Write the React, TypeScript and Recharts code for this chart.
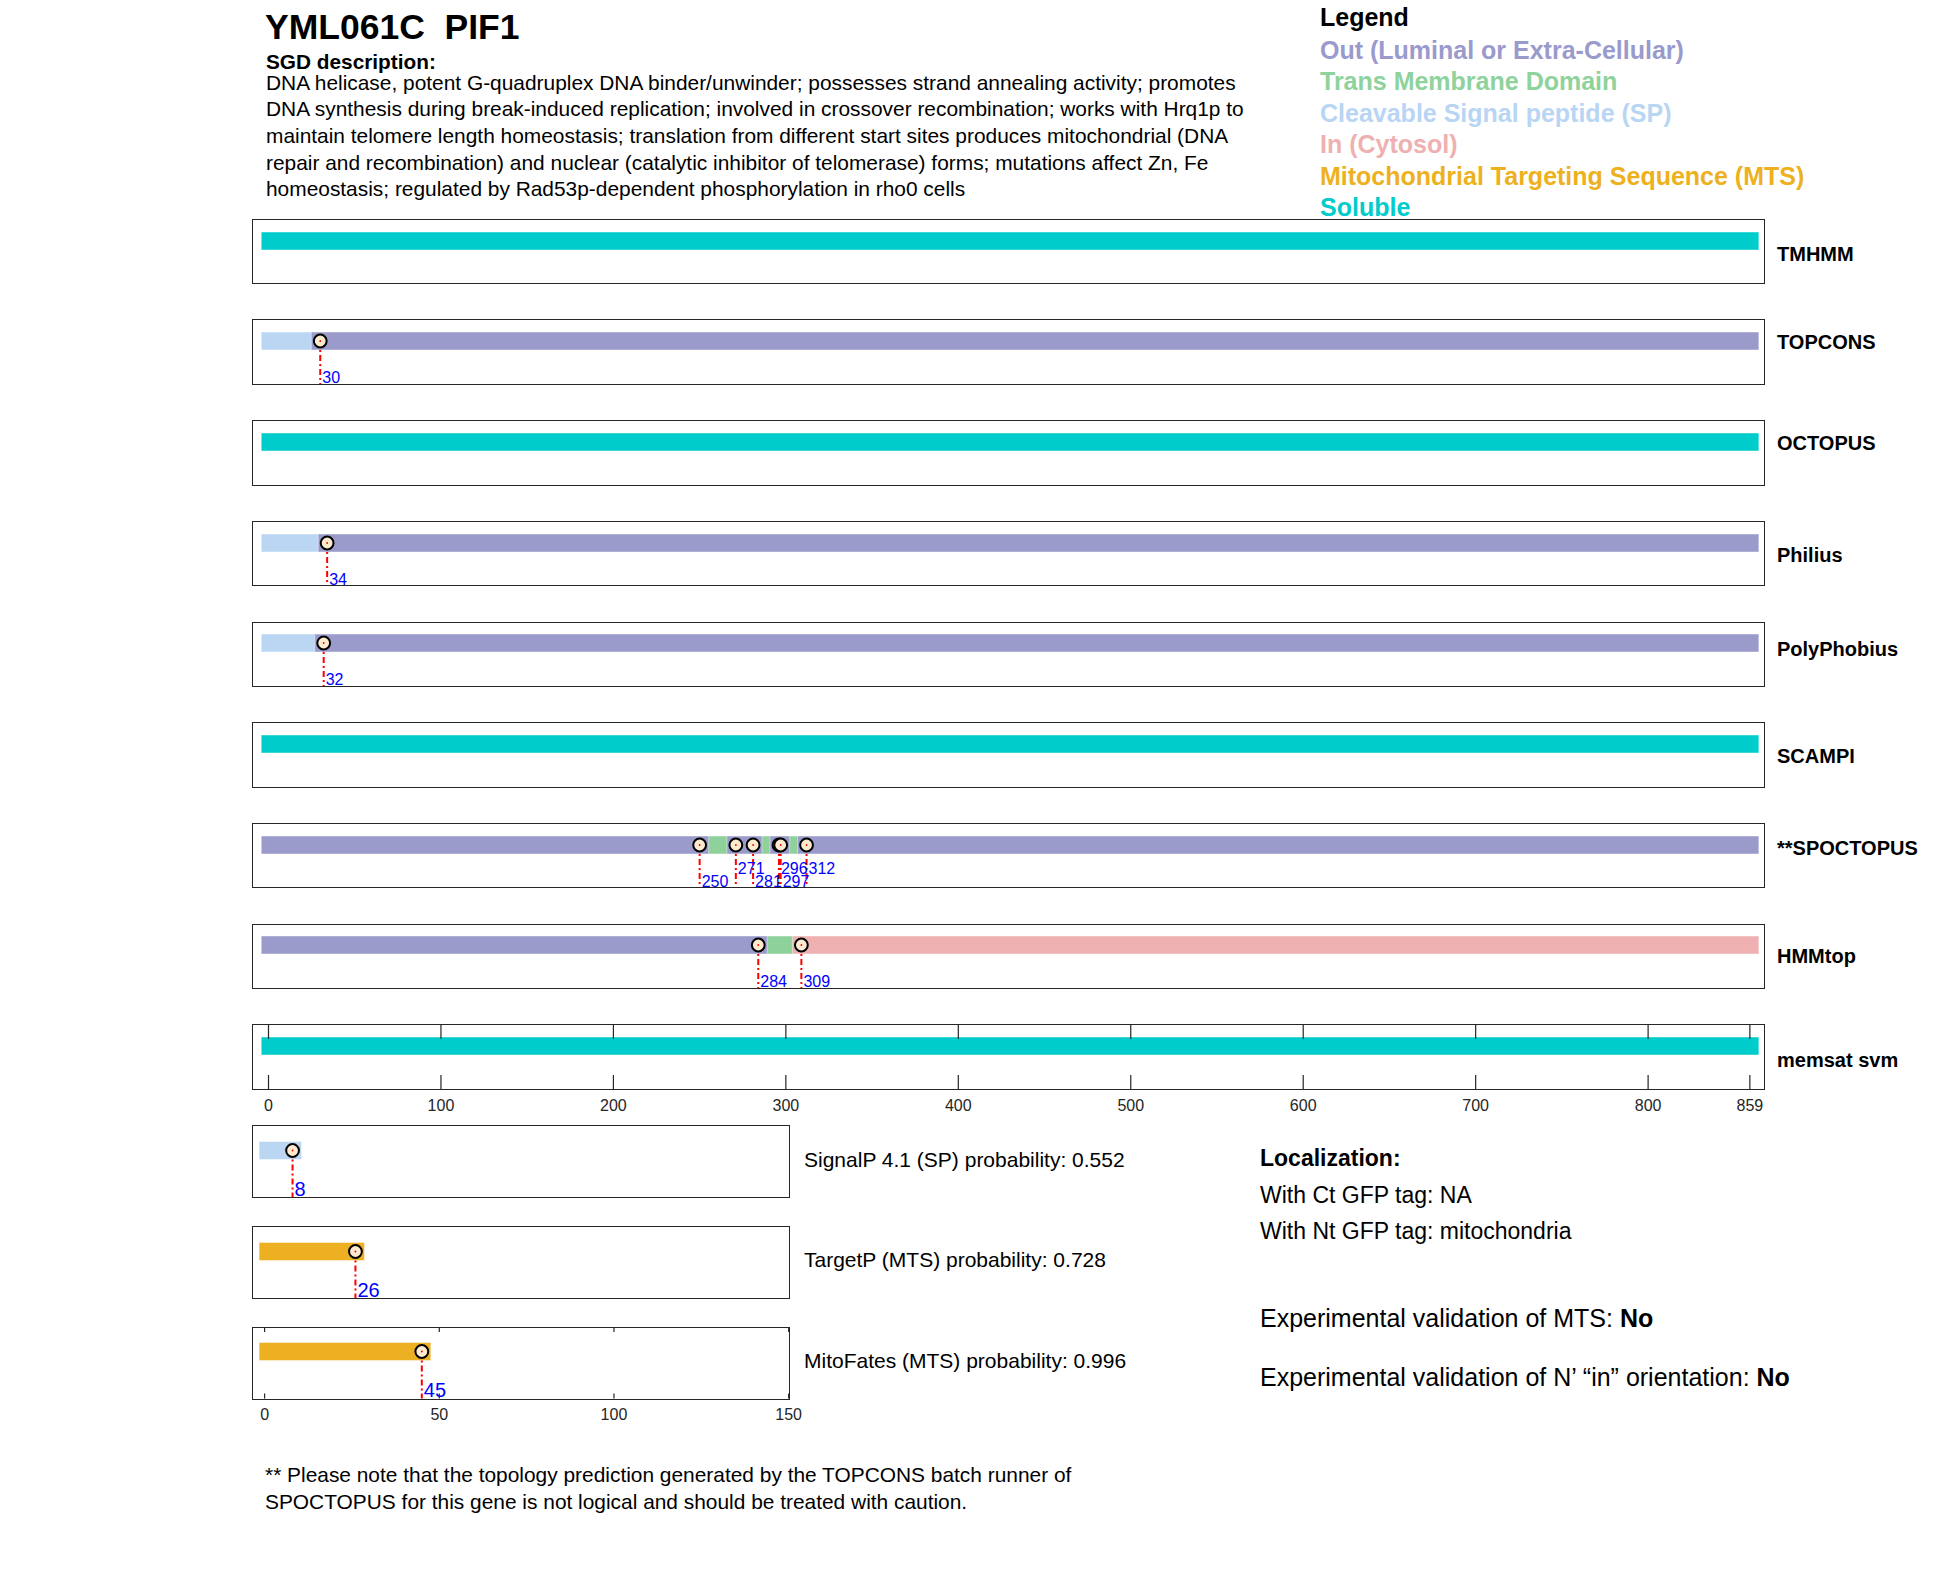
import React from 'react';
import { ComposedChart, XAxis, YAxis, ReferenceArea, ReferenceLine, Scatter } from 'recharts';

// Protein topology predictions for YML061C / PIF1 (859 residues)
const SEQ_LENGTH = 859;

const TRACK_NAMES = ['TMHMM', 'TOPCONS', 'OCTOPUS', 'Philius', 'PolyPhobius', 'SCAMPI', '**SPOCTOPUS', 'HMMtop', 'memsat svm'];

type Seg = [string, number, number];

const tmhmmSegments: Seg[] = [['soluble', 1, SEQ_LENGTH]];
const topconsSegments: Seg[] = [['sp', 1, 30], ['out', 30, SEQ_LENGTH]];
const octopusSegments: Seg[] = [['soluble', 1, SEQ_LENGTH]];
const philiusSegments: Seg[] = [['sp', 1, 34], ['out', 34, SEQ_LENGTH]];
const polyphobiusSegments: Seg[] = [['sp', 1, 32], ['out', 32, SEQ_LENGTH]];
const scampiSegments: Seg[] = [['soluble', 1, SEQ_LENGTH]];
const spoctopusSegments: Seg[] = [
  ['out', 1, 250], ['tm', 250, 271], ['out', 271, 281], ['tm', 281, 296],
  ['out', 296, 297], ['tm', 297, 312], ['out', 312, SEQ_LENGTH],
];
const hmmtopSegments: Seg[] = [['out', 1, 284], ['tm', 284, 309], ['in', 309, SEQ_LENGTH]];
const memsatSegments: Seg[] = [['soluble', 1, SEQ_LENGTH]];

const TRACK_SEGMENTS = [
  tmhmmSegments, topconsSegments, octopusSegments, philiusSegments, polyphobiusSegments,
  scampiSegments, spoctopusSegments, hmmtopSegments, memsatSegments,
];

const TRACK_SITES = [[], [30], [], [34], [32], [], [250, 271, 281, 296, 297, 312], [284, 309], []];

const AXIS_TICKS = [0, 100, 200, 300, 400, 500, 600, 700, 800, 859];
const SMALL_TICKS = [0, 50, 100, 150];

// N-terminal predictors
const PREDICTOR_NAMES = ['SignalP 4.1 (SP)', 'TargetP (MTS)', 'MitoFates (MTS)'];
const PREDICTOR_TYPES = ['sp', 'mts', 'mts'];
const PREDICTOR_SITES = [8, 26, 45];
const PREDICTOR_PROBS = [0.552, 0.728, 0.996];

const LEGEND_KEYS = ['out', 'tm', 'sp', 'in', 'mts', 'soluble'];
const LEGEND_LABELS = [
  'Out (Luminal or Extra-Cellular)', 'Trans Membrane Domain', 'Cleavable Signal peptide (SP)',
  'In (Cytosol)', 'Mitochondrial Targeting Sequence (MTS)', 'Soluble',
];

const DESCRIPTION = [
  'DNA helicase, potent G-quadruplex DNA binder/unwinder; possesses strand annealing activity; promotes',
  'DNA synthesis during break-induced replication; involved in crossover recombination; works with Hrq1p to',
  'maintain telomere length homeostasis; translation from different start sites produces mitochondrial (DNA',
  'repair and recombination) and nuclear (catalytic inhibitor of telomerase) forms; mutations affect Zn, Fe',
  'homeostasis; regulated by Rad53p-dependent phosphorylation in rho0 cells',
];

const FOOTNOTE = [
  '** Please note that the topology prediction generated by the TOPCONS batch runner of',
  'SPOCTOPUS for this gene is not logical and should be treated with caution.',
];

const COLORS: Record<string, string> = {
  out: '#9B9BCB',
  tm: '#8FD19B',
  sp: '#BAD6F2',
  in: '#EEB0B0',
  mts: '#ECB022',
  soluble: '#00CCCC',
};
const LEGEND_COLORS: Record<string, string> = {
  out: '#9A9ACC',
  tm: '#8ED29C',
  sp: '#B8D5F4',
  in: '#EEB0B1',
  mts: '#EDB120',
  soluble: '#00CCCC',
};

const FONT = '"Liberation Sans", Arial, Helvetica, sans-serif';
const CAP = 9; // bars are drawn like thick lines, half-width sticks out past the ends

// layout
const BIG_LEFT = 253;
const BIG_WIDTH = 1511;
const BIG_TOP = 219.5;
const BIG_H = 64;
const BIG_DOMAIN: [number, number] = [-8.99, 867.2];
const STEP = 100.7;
const SMALL_LEFT = 253;
const SMALL_WIDTH = 536;
const SMALL_TOP = 1126;
const SMALL_H = 71.5;
const SMALL_DOMAIN: [number, number] = [-3.32, 150.1];
const LABEL_DY = [34, 22, 22, 33, 26.5, 32.5, 24.5, 32, 34.5];
const PAD = 24; // spare room round each chart so edge labels are not clipped

const assignRows = (sites: number[]) => {
  let prev: number | null = null;
  let prevRow = 0;
  return sites.map((s) => {
    const row = prev !== null && s - prev < 24 ? 1 - prevRow : 0;
    prev = s;
    prevRow = row;
    return row;
  });
};

const SegmentRect = (props: any) => {
  const { x, y, width, height, color } = props;
  if (x == null || y == null) return null;
  return (
    <rect
      x={x - CAP}
      y={y}
      width={width + CAP * 2}
      height={height}
      fill={color}
      stroke="rgba(255,255,255,0.45)"
      strokeWidth={1}
    />
  );
};

const SiteDot = (props: any) => {
  const { cx, cy, payload, plotBottom, fontSize } = props;
  const baseline = payload.row === 1 ? plotBottom - 14.3 : plotBottom - 1.5;
  return (
    <g>
      <circle cx={cx} cy={cy} r={6.4} fill="#FDEBCF" stroke="#000" strokeWidth={2} />
      <circle cx={cx} cy={cy} r={0.9} fill="#FF0000" />
      <text x={cx + 2} y={baseline} fontSize={fontSize} fill="#0000FF" fontFamily={FONT}>
        {payload.x}
      </text>
    </g>
  );
};

const AxisTick = (props: any) => {
  const { x, payload, plotTop, plotH, len } = props;
  const bottom = plotTop + plotH;
  return (
    <g>
      <line x1={x} x2={x} y1={plotTop} y2={plotTop + len} stroke="#262626" strokeWidth={1.2} />
      <line x1={x} x2={x} y1={bottom - len} y2={bottom} stroke="#262626" strokeWidth={1.2} />
      <text x={x} y={bottom + 21.5} textAnchor="middle" fontSize={16} fill="#262626" fontFamily={FONT}>
        {payload.value}
      </text>
    </g>
  );
};

interface TrackProps {
  left: number;
  top: number;
  width: number;
  height: number;
  domain: [number, number];
  segments: Seg[];
  sites: number[];
  ticks?: number[];
  tickLen?: number;
  labelSize: number;
  barTop: number;
  barH: number;
}

const Track: React.FC<TrackProps> = ({ left, top, width, height, domain, segments, sites, ticks, tickLen, labelSize, barTop, barH }) => {
  const hasAxis = !!ticks;
  const axisH = hasAxis ? 32 : 0;
  const rows = assignRows(sites);
  const dots = sites.map((s, i) => ({ x: s, y: barTop + barH / 2, row: rows[i] }));
  // transmembrane pieces sit underneath the neighbouring segments
  const ordered = [...segments.filter((s) => s[0] === 'tm'), ...segments.filter((s) => s[0] !== 'tm')];

  return (
    <div style={{ position: 'absolute', left: left - PAD, top: top - PAD, width: width + PAD * 2, height: height + axisH + PAD * 2 }}>
      <ComposedChart
        width={width + PAD * 2}
        height={height + axisH + PAD * 2}
        margin={{ top: PAD, right: PAD, bottom: PAD, left: PAD }}
        data={dots}
      >
        <XAxis
          type="number"
          dataKey="x"
          domain={domain}
          allowDataOverflow
          hide={!hasAxis}
          ticks={ticks}
          interval={0}
          height={axisH}
          axisLine={false}
          tickLine={false}
          tick={hasAxis ? (p: any) => <AxisTick {...p} plotTop={PAD} plotH={height} len={tickLen} /> : false}
        />
        <YAxis type="number" dataKey="y" domain={[0, height]} reversed hide allowDataOverflow />
        {ordered.map(([type, start, end], i) => (
          <ReferenceArea
            key={'a' + i}
            x1={start}
            x2={end}
            y1={barTop}
            y2={barTop + barH}
            ifOverflow="visible"
            shape={(p: any) => <SegmentRect {...p} color={COLORS[type]} />}
          />
        ))}
        {sites.map((s, i) => (
          <ReferenceLine
            key={'l' + i}
            segment={[{ x: s, y: barTop + barH / 2 }, { x: s, y: height }]}
            stroke="#FF0000"
            strokeWidth={2}
            strokeDasharray="6 3 2 3"
            ifOverflow="visible"
          />
        ))}
        <Scatter
          data={dots}
          isAnimationActive={false}
          shape={(p: any) => <SiteDot {...p} plotBottom={PAD + height} fontSize={labelSize} />}
        />
      </ComposedChart>
      <div
        style={{
          position: 'absolute',
          left: PAD - 0.7,
          top: PAD - 0.7,
          width: width + 1.4,
          height: height + 1.4,
          border: '1.4px solid #262626',
          boxSizing: 'border-box',
          pointerEvents: 'none',
        }}
      />
    </div>
  );
};

export default function App() {
  return (
    <div style={{ position: 'absolute', left: 0, top: 0, width: 1950, height: 1573, background: '#fff', fontFamily: FONT }}>
      <svg width={1950} height={1573} style={{ position: 'absolute', left: 0, top: 0 }} fontFamily={FONT}>
        <text x={265} y={38.5} fontSize={35.5} fontWeight="bold" fill="#000" style={{ whiteSpace: 'pre' }}>
          {'YML061C  PIF1'}
        </text>
        <text x={266} y={69} fontSize={20.8} fontWeight="bold" fill="#000">SGD description:</text>
        {DESCRIPTION.map((line, i) => (
          <text key={i} x={266} y={89.5 + i * 26.7} fontSize={20.9} fill="#000">{line}</text>
        ))}

        <text x={1320} y={26} fontSize={25} fontWeight="bold" fill="#000">Legend</text>
        {LEGEND_LABELS.map((label, i) => (
          <text key={label} x={1320} y={58.5 + i * 31.5} fontSize={25} fontWeight="bold" fill={LEGEND_COLORS[LEGEND_KEYS[i]]}>
            {label}
          </text>
        ))}

        {TRACK_NAMES.map((name, i) => (
          <text key={name} x={1777} y={BIG_TOP + i * STEP + LABEL_DY[i] + 7} fontSize={20} fontWeight="bold" fill="#000">
            {name}
          </text>
        ))}

        {PREDICTOR_NAMES.map((name, i) => (
          <text key={name} x={804} y={SMALL_TOP + i * STEP + 40.5} fontSize={21} fill="#000">
            {`${name} probability: ${PREDICTOR_PROBS[i]}`}
          </text>
        ))}

        <text x={1260} y={1166} fontSize={23} fontWeight="bold" fill="#000">Localization:</text>
        <text x={1260} y={1202.5} fontSize={23} fill="#000">With Ct GFP tag: NA</text>
        <text x={1260} y={1239} fontSize={23} fill="#000">With Nt GFP tag: mitochondria</text>
        <text x={1260} y={1326.5} fontSize={25} fill="#000">
          Experimental validation of MTS: <tspan fontWeight="bold">No</tspan>
        </text>
        <text x={1260} y={1385.5} fontSize={25} fill="#000">
          Experimental validation of N’ “in” orientation: <tspan fontWeight="bold">No</tspan>
        </text>

        {FOOTNOTE.map((line, i) => (
          <text key={i} x={265} y={1482 + i * 27.2} fontSize={20.9} fill="#000">{line}</text>
        ))}
      </svg>

      {TRACK_SEGMENTS.map((segs, i) => (
        <Track
          key={TRACK_NAMES[i]}
          left={BIG_LEFT}
          top={BIG_TOP + i * STEP}
          width={BIG_WIDTH}
          height={BIG_H}
          domain={BIG_DOMAIN}
          segments={segs}
          sites={TRACK_SITES[i]}
          ticks={i === TRACK_SEGMENTS.length - 1 ? AXIS_TICKS : undefined}
          tickLen={14}
          labelSize={16}
          barTop={12}
          barH={18}
        />
      ))}

      {PREDICTOR_NAMES.map((name, i) => (
        <Track
          key={name}
          left={SMALL_LEFT}
          top={SMALL_TOP + i * STEP}
          width={SMALL_WIDTH}
          height={SMALL_H}
          domain={SMALL_DOMAIN}
          segments={[[PREDICTOR_TYPES[i], 1, PREDICTOR_SITES[i]]]}
          sites={[PREDICTOR_SITES[i]]}
          ticks={i === PREDICTOR_NAMES.length - 1 ? SMALL_TICKS : undefined}
          tickLen={5}
          labelSize={20}
          barTop={15.5}
          barH={18}
        />
      ))}
    </div>
  );
}
